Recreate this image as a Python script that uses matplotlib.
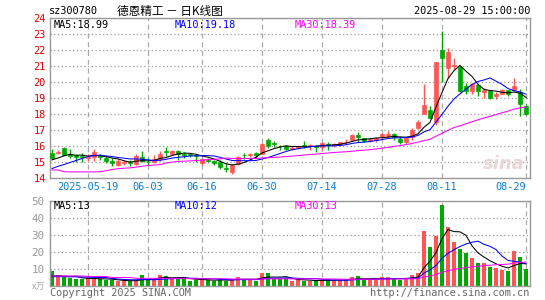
import matplotlib
matplotlib.use("Agg")
import matplotlib.pyplot as plt
import numpy as np
import pandas as pd

# daily candles, 2025-05-09 .. 2025-08-29 (80 trading days)
opens = [15.52, 15.52, 15.82, 15.48, 15.42, 15.35, 15.25, 15.27, 15.35, 15.20,
         15.06, 14.76, 14.90, 14.98, 14.85, 15.30, 15.00, 14.98, 15.17, 15.66,
         15.50, 15.63, 15.50, 15.46, 15.42, 14.90, 15.12, 15.05, 14.98, 14.60,
         14.35, 14.82, 15.42, 15.43, 15.55, 15.50, 16.33, 16.18, 16.00, 15.98,
         15.80, 15.86, 16.03, 16.00, 15.95, 15.90, 16.12, 16.02, 16.08, 16.20,
         16.35, 16.65, 16.44, 16.30, 16.32, 16.52, 16.57, 16.72, 16.40, 16.20,
         16.55, 17.12, 18.00, 18.25, 17.50, 22.00, 20.83, 21.00, 20.92, 19.75,
         19.42, 19.79, 19.33, 19.42, 19.08, 19.25, 19.46, 19.46, 19.33, 18.50]
highs = [15.81, 15.70, 15.92, 15.81, 15.50, 15.52, 15.45, 15.77, 15.50, 15.35,
         15.20, 15.15, 15.10, 15.10, 15.45, 15.65, 15.20, 15.42, 15.68, 15.90,
         15.70, 15.71, 15.60, 15.50, 15.48, 15.20, 15.20, 15.12, 15.10, 14.90,
         14.85, 15.35, 15.56, 15.54, 15.58, 16.15, 16.50, 16.30, 16.05, 16.05,
         15.95, 16.00, 16.30, 16.10, 16.02, 16.20, 16.20, 16.16, 16.25, 16.40,
         16.70, 16.86, 16.48, 16.45, 16.56, 16.77, 16.90, 16.77, 16.60, 16.55,
         17.08, 17.58, 19.83, 18.50, 21.25, 23.13, 22.12, 21.46, 21.00, 19.92,
         19.92, 19.83, 19.62, 19.46, 19.33, 19.54, 19.50, 20.25, 19.54, 18.62]
lows = [15.15, 15.45, 15.40, 15.23, 15.00, 15.00, 15.05, 15.05, 15.08, 14.93,
        14.75, 14.72, 14.80, 14.75, 14.78, 14.95, 14.80, 14.92, 15.05, 15.35,
        15.48, 15.10, 15.25, 15.30, 15.00, 14.80, 15.00, 14.80, 14.55, 14.35,
        14.25, 14.78, 15.18, 15.27, 15.20, 15.45, 15.85, 15.88, 15.70, 15.73,
        15.72, 15.80, 15.85, 15.73, 15.60, 15.75, 15.75, 15.92, 15.95, 16.10,
        16.30, 16.20, 16.20, 16.22, 16.20, 16.50, 16.50, 16.35, 16.12, 16.10,
        16.35, 17.04, 17.96, 17.70, 17.30, 19.96, 20.25, 20.75, 19.33, 19.20,
        19.20, 19.12, 19.00, 18.88, 18.90, 19.20, 19.12, 19.42, 17.87, 17.90]
closes = [15.23, 15.62, 15.43, 15.36, 15.30, 15.30, 15.30, 15.58, 15.30, 15.03,
          14.88, 15.02, 15.00, 14.88, 15.32, 15.05, 14.95, 15.15, 15.48, 15.62,
          15.67, 15.44, 15.42, 15.40, 15.32, 15.15, 15.05, 14.90, 14.65, 14.55,
          14.77, 15.30, 15.40, 15.46, 15.42, 16.08, 15.97, 16.10, 15.95, 15.80,
          15.85, 15.98, 16.00, 16.02, 15.88, 16.15, 16.03, 16.12, 16.20, 16.25,
          16.65, 16.52, 16.28, 16.40, 16.50, 16.72, 16.72, 16.53, 16.20, 16.44,
          17.00, 17.50, 18.54, 17.75, 21.25, 21.50, 21.87, 21.04, 19.38, 19.42,
          19.87, 19.42, 19.46, 19.00, 19.25, 19.50, 19.25, 19.71, 18.62, 17.96]
volumes = [8.6, 6.3, 5.1, 4.7, 3.9, 4.3, 4.5, 4.7, 3.9, 3.5,
           3.5, 2.7, 2.7, 3.1, 3.5, 6.3, 3.5, 3.9, 6.3, 5.7,
           4.7, 4.3, 4.3, 3.1, 3.5, 3.9, 3.5, 3.1, 3.9, 3.1,
           3.9, 5.1, 3.9, 3.9, 3.1, 7.5, 7.8, 3.9, 3.9, 4.5,
           3.1, 3.5, 3.1, 3.1, 3.1, 3.5, 3.9, 3.5, 3.5, 3.5,
           5.1, 5.7, 3.5, 3.5, 3.9, 5.1, 5.1, 4.3, 3.5, 4.3,
           6.3, 7.5, 32.2, 22.7, 29.4, 47.5, 34.5, 25.9, 22.0, 19.2,
           16.5, 13.8, 13.8, 11.0, 10.3, 9.4, 8.6, 20.8, 16.9, 9.8]

# moving-average values before the window is full
ma5_head = [15.10, 15.22, 15.35, 15.45]
ma10_head = [14.56, 14.70, 14.81, 14.94, 15.06, 15.19, 15.31, 15.38, 15.40]
ma30_head = [14.47, 14.47, 14.36, 14.35, 14.35, 14.35, 14.35, 14.35, 14.36, 14.42,
             14.50, 14.55, 14.58, 14.60, 14.65, 14.70, 14.75, 14.78, 14.80, 14.90,
             14.96, 15.00, 15.02, 15.04, 15.06, 15.08, 15.12, 15.14, 15.16]
vma5_head = [6.0, 6.0, 5.8, 5.6]
vma10_head = [5.5, 5.5, 5.5, 5.4, 5.4, 5.3, 5.2, 5.1, 5.0]
vma30_head = [5.9] * 6 + [5.6] * 4 + [5.0] * 4 + [4.5] * 9 + [4.3] * 6

tick_pos = [6, 16, 25, 35, 45, 55, 65, 79]
tick_labels = ['2025-05-19', '06-03', '06-16', '06-30', '07-14', '07-28', '08-11', '08-29']

RED = '#ff5555'
GREEN = '#00a800'
MONO = 'DejaVu Sans Mono'


def moving_avg(values, n, head):
    s = pd.Series(values).rolling(n).mean().to_numpy()
    s[:n - 1] = head
    return s


def px(x, y):
    return x / 545, 1 - y / 300


def style_axes(ax):
    for sp in ax.spines.values():
        sp.set_color('#999999')
        sp.set_linewidth(1.0)
    ax.xaxis.grid(True, linestyle=(0, (4, 3)), color='#aaaaaa', linewidth=0.9)
    ax.yaxis.grid(True, linestyle=(0, (1, 2)), color='#999999', linewidth=0.9)
    ax.set_axisbelow(True)
    ax.tick_params(length=0)
    ax.set_xlim(-1 / 3, 79 + 2 / 3)
    ax.set_xticks(tick_pos)


def main():
    x = np.arange(len(closes))
    o = np.array(opens)
    c = np.array(closes)
    colors = [RED if cc >= oo else GREEN for oo, cc in zip(o, c)]

    fig = plt.figure(figsize=(5.45, 3.0), dpi=100)
    ax = fig.add_axes([50 / 545, 1 - 177.5 / 300, 480 / 545, 160 / 300])
    axv = fig.add_axes([50 / 545, 1 - 286 / 300, 480 / 545, 85 / 300])

    # price panel
    style_axes(ax)
    ax.set_ylim(14, 24)
    ax.set_yticks(range(14, 25))
    ax.set_yticklabels([str(v) for v in range(14, 25)], color='#dd0000',
                       fontfamily=MONO, fontsize=7.4)
    ax.set_xticklabels(tick_labels, color='#0a7fd0', fontfamily=MONO, fontsize=7.4)
    ax.get_xticklabels()[-1].set_ha('right')
    ax.tick_params(axis='y', pad=3)
    ax.tick_params(axis='x', pad=3)

    ax.vlines(x, lows, highs, colors=colors, linewidth=1.0, zorder=2)
    ax.bar(x, np.abs(c - o), bottom=np.minimum(o, c), width=0.72,
           color=colors, edgecolor=colors, linewidth=0.5, zorder=3)

    ax.plot(x, moving_avg(closes, 5, ma5_head), color='black', lw=0.75, zorder=4)
    ax.plot(x, moving_avg(closes, 10, ma10_head), color='#0000ff', lw=0.75, zorder=4)
    ax.plot(x, moving_avg(closes, 30, ma30_head), color='#ff00ff', lw=0.75, zorder=4)

    ax.text(0.99, 0.03, 'sina', transform=ax.transAxes, ha='right', va='bottom',
            fontsize=13, fontweight='bold', fontstyle='italic', color='#ead6d6', zorder=1)

    # volume panel
    style_axes(axv)
    axv.set_ylim(0, 50)
    axv.set_yticks([0, 10, 20, 30, 40, 50])
    axv.set_yticklabels(['', '10', '20', '30', '40', '50'], color='#999999',
                        fontfamily=MONO, fontsize=7.8)
    axv.set_xticklabels([])
    axv.tick_params(axis='y', pad=4)
    axv.bar(x, volumes, width=0.8, color=colors, linewidth=0, zorder=2)
    axv.plot(x, moving_avg(volumes, 5, vma5_head), color='black', lw=0.75, zorder=4)
    axv.plot(x, moving_avg(volumes, 10, vma10_head), color='#0000ff', lw=0.75, zorder=4)
    axv.plot(x, moving_avg(volumes, 30, vma30_head), color='#ff00ff', lw=0.75, zorder=4)

    # header and legends
    fig.text(*px(49, 11), 'sz300780', fontfamily=MONO, fontsize=7.4, va='center')
    fig.text(*px(117, 11), '德恩精工 － 日K线图', family=['Noto Sans CJK SC', 'DejaVu Sans'],
             fontsize=8.4, va='center')
    fig.text(*px(530, 11), '2025-08-29 15:00:00', fontfamily=MONO, fontsize=7.4,
             va='center', ha='right')

    fig.text(*px(54, 25), 'MA5:18.99', fontfamily=MONO, fontsize=7.4, va='center', color='black')
    fig.text(*px(175, 25), 'MA10:19.18', fontfamily=MONO, fontsize=7.4, va='center', color='#0000ff')
    fig.text(*px(295, 25), 'MA30:18.39', fontfamily=MONO, fontsize=7.4, va='center', color='#ff00ff')

    fig.text(*px(54, 206), 'MA5:13', fontfamily=MONO, fontsize=7.4, va='center', color='black')
    fig.text(*px(175, 206), 'MA10:12', fontfamily=MONO, fontsize=7.4, va='center', color='#0000ff')
    fig.text(*px(295, 206), 'MA30:13', fontfamily=MONO, fontsize=7.4, va='center', color='#ff00ff')

    fig.text(*px(45, 287), 'x万', family=['Noto Sans CJK SC', 'DejaVu Sans'], fontsize=6.5,
             va='center', ha='right', color='#aaaaaa')
    fig.text(*px(50, 293), 'Copyright 2025 SINA.COM', fontfamily=MONO, fontsize=7.4,
             va='center', color='#666666')
    fig.text(*px(529, 293), 'http://finance.sina.com.cn', fontfamily=MONO, fontsize=7.4,
             va='center', ha='right', color='#666666')

    fig.savefig('out.png', dpi=100)
    plt.close(fig)


if __name__ == "__main__":
    main()
